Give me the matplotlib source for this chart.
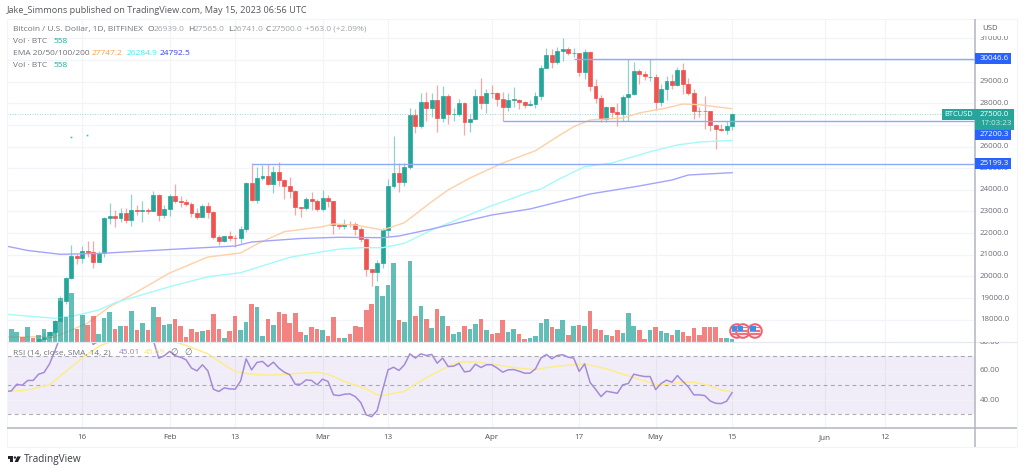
import numpy as np
import matplotlib
matplotlib.use("Agg")
import matplotlib.pyplot as plt
from matplotlib.patches import Ellipse, Polygon, Rectangle, Circle

# ── Data: days counted from Jan 1 2023 ──────────────────────
days = np.arange(1, 135)

opens = [16620, 16660, 16670, 16850, 16830, 16950, 16940, 17120, 17180, 17440, 17940, 18850, 19930, 20950,
         20870, 21180, 21130, 20670, 21080, 22680, 22780, 22710, 22920, 22630, 23060, 23010, 23080, 23030,
         23750, 22830, 23130, 23730, 23490, 23430, 23330, 22940, 22760, 23240, 22960, 21800, 21630, 21860,
         21790, 21780, 22200, 24330, 23520, 24570, 24630, 24280, 24840, 24450, 24190, 23940, 23190, 23160,
         23560, 23490, 23130, 23630, 23470, 22360, 22350, 22430, 22410, 22200, 21710, 20360, 20190, 20630,
         22160, 24200, 24770, 24380, 25050, 27450, 26970, 28040, 27770, 28170, 27300, 28320, 27480, 27490,
         27990, 27140, 27270, 28350, 28030, 28475, 28470, 28200, 27810, 28160, 28170, 28040, 27920, 27950,
         28330, 29650, 30230, 29890, 30400, 30490, 30310, 30320, 29430, 30380, 28800, 28250, 27270, 27820,
         27590, 27520, 28300, 28420, 29470, 29340, 29210, 29230, 28070, 28680, 29030, 28850, 29530, 28900,
         28450, 27660, 27630, 27620, 26990, 26800, 26780, 26939]
highs = [16760, 16780, 16990, 16880, 16980, 16970, 17170, 17400, 17490, 18000, 19100, 19990, 21450, 21050,
         21400, 21630, 21650, 21190, 22740, 23370, 23080, 23160, 23180, 23790, 23280, 23500, 23180, 23960,
         23800, 23320, 23810, 24260, 23710, 23590, 23450, 23170, 23350, 23450, 23000, 21900, 21890, 22090,
         21900, 22320, 24380, 25250, 25050, 25130, 25200, 25100, 25270, 24480, 24600, 23970, 23220, 23690,
         23880, 23600, 24000, 23780, 23500, 22420, 22650, 22570, 22530, 22270, 21800, 20360, 20780, 22250,
         24500, 26500, 25250, 25230, 27780, 27750, 28470, 28530, 28470, 28830, 28800, 28440, 27800, 28200,
         28040, 27500, 28650, 29180, 28650, 28820, 28500, 28500, 28450, 28770, 28190, 28100, 28170, 28530,
         29770, 30550, 30500, 30600, 31000, 30620, 30560, 30320, 30490, 30410, 29100, 28370, 27890, 27820,
         28000, 28400, 30040, 29900, 29580, 29470, 30050, 29330, 28880, 29260, 29370, 29680, 29840, 29180,
         28640, 27830, 28330, 27640, 27040, 27040, 27200, 27565]
lows = [16550, 16610, 16650, 16750, 16750, 16910, 16910, 17100, 17140, 17320, 17920, 18730, 19890, 20560,
        20600, 20880, 20400, 20650, 20880, 22400, 22300, 22500, 22470, 22330, 22850, 22520, 22880, 23000,
        22550, 22720, 22780, 23400, 23220, 23260, 22750, 22640, 22730, 22680, 21710, 21460, 21600, 21640,
        21360, 21540, 22050, 23480, 23380, 24460, 24220, 23850, 24180, 23600, 23620, 22850, 22730, 23060,
        23090, 23020, 23020, 23210, 21960, 22200, 22200, 22280, 21930, 21590, 20040, 19570, 19800, 20400,
        21840, 24100, 23900, 24190, 24950, 26640, 26870, 27180, 27350, 26650, 27150, 27020, 27170, 27390,
        26530, 26670, 27260, 27720, 27530, 28250, 27870, 27200, 27660, 27830, 27740, 27780, 27880, 27800,
        28170, 29620, 29650, 29820, 29960, 30230, 30120, 29270, 29110, 28550, 28020, 27130, 27130, 27350,
        26970, 27200, 27200, 28400, 28900, 29080, 29050, 27670, 27880, 28130, 28680, 28810, 28430, 28390,
        27280, 27370, 26800, 26710, 25890, 26700, 26600, 26741]
closes = [16680, 16670, 16850, 16830, 16950, 16940, 17120, 17180, 17440, 17940, 18850, 19930, 20950, 20870,
          21180, 21130, 20670, 21080, 22680, 22780, 22710, 22920, 22630, 23060, 23010, 23080, 23030, 23750,
          22830, 23130, 23730, 23490, 23430, 23330, 22940, 22760, 23240, 22960, 21800, 21630, 21860, 21780,
          21770, 22200, 24330, 23520, 24570, 24630, 24280, 24840, 24450, 24190, 23940, 23190, 23160, 23560,
          23490, 23130, 23630, 23470, 22360, 22350, 22430, 22410, 22200, 21710, 20360, 20190, 20630, 22160,
          24200, 24770, 24380, 25050, 27450, 26970, 28040, 27770, 28170, 27300, 28320, 27490, 27490, 27990,
          27140, 27270, 28350, 28030, 28470, 28465, 28200, 27810, 28170, 28180, 28040, 27920, 27950, 28330,
          29650, 30230, 29890, 30400, 30490, 30310, 30320, 29430, 30380, 28800, 28250, 27270, 27820, 27590,
          27520, 28300, 28420, 29470, 29340, 29250, 29230, 28070, 28680, 29030, 28850, 29530, 28900, 28450,
          27660, 27630, 27620, 26990, 26800, 26780, 26930, 27500]
volumes = [3, 13, 9.7, 5, 15, 3.3, 7, 13, 10, 21, 44, 25, 49, 13,
           27, 17, 26, 7.7, 24, 30, 12.7, 15.7, 16, 31, 12, 18.7, 12, 35,
           24.7, 16.7, 18, 23, 16, 5, 12.3, 9.7, 10.3, 11.7, 27.3, 12.7, 3.3, 10.7,
           25.7, 12, 19.7, 38, 34.3, 5.7, 22.7, 17, 29.3, 27.7, 18.7, 28.7, 9.3, 6.7,
           15, 12.3, 11.7, 6, 25, 3.3, 3.7, 7.7, 15.7, 14.7, 31.3, 38, 55.7, 46,
           57, 78.7, 22, 20, 80.3, 25.3, 36, 22.3, 14, 32.7, 26, 16, 7.3, 10,
           16, 12.3, 18, 22.3, 11.3, 7.7, 8.7, 22, 9.3, 12.7, 7.7, 3, 4, 6,
           18.7, 23, 14.3, 12.3, 21.7, 7, 15.7, 17, 16, 31, 13, 11.7, 6.3, 6,
           11.7, 8.7, 28.7, 16, 12, 3, 11.7, 15, 10.7, 9, 7, 12, 10, 5.7,
           13.3, 6.3, 14.3, 14.7, 15, 3.3, 3.3, 3]

ema20_days = [1, 10, 13, 16, 20, 24, 31, 38, 44, 47, 52, 59, 61, 65, 70, 74, 79, 82, 86, 92, 98, 102, 105, 108,
              114, 117, 122, 125, 128, 134]
ema20_vals = [17203, 17217, 17526, 17850, 18603, 19143, 20159, 20898, 21083, 21499, 22067, 22298, 22423, 22376,
              22145, 22483, 23453, 23993, 24547, 25240, 25808, 26455, 26917, 27226, 27319, 27550, 27781, 27965,
              27933, 27747.2]
ema50_days = [1, 10, 14, 18, 21, 31, 38, 44, 53, 59, 62, 66, 70, 74, 79, 90, 97, 99, 102, 107, 112, 119, 124, 128, 134]
ema50_vals = [18252, 18067, 18205, 18450, 18787, 19526, 19988, 20173, 20884, 21143, 21259, 21328, 21328, 21531,
              22145, 23268, 23901, 24039, 24455, 25069, 25240, 25762, 26072, 26210, 26284.9]
ema100_days = [1, 5, 11, 18, 31, 43, 46, 55, 62, 70, 73, 79, 90, 97, 108, 117, 123, 126, 134]
ema100_vals = [21406, 21199, 21023, 21060, 21245, 21406, 21591, 21753, 21808, 21790, 21868, 22192, 22838, 23116,
               23808, 24178, 24455, 24686, 24792.5]

rsi_vals = [45.8, 46.2, 50.8, 50.1, 53.4, 53.4, 57.7, 58.9, 64.8, 74, 83.7, 87, 91, 90,
            90, 87, 78.2, 80.5, 85, 87, 84, 85, 83, 85, 85, 85, 84, 81,
            68.7, 70.4, 73.4, 70.4, 69.4, 67.6, 61.9, 60, 64.2, 60, 47.4, 45.8, 48.3, 47.6,
            47.4, 53.1, 68.3, 60.7, 65.8, 66.5, 63, 66, 61.9, 59.1, 57.3, 50.8, 50.8, 53.8,
            53.4, 50.4, 54.3, 52.7, 43.5, 43, 43.9, 44.2, 42.3, 38.2, 29.7, 28.5, 32.7, 46.9,
            60.7, 62.5, 60.3, 64.2, 71.7, 68.8, 71.7, 70.6, 71.3, 65.3, 68.8, 63, 63.2, 65.1,
            59.3, 59.8, 64.6, 62.3, 64.2, 64.2, 61.9, 59.1, 60.7, 60.9, 59.8, 58.4, 58.4, 61.4,
            68.8, 71.3, 68.3, 70.6, 71.1, 69.4, 68.8, 59.6, 64.8, 52, 47.4, 42.3, 46, 45.3,
            44.6, 50.4, 51.3, 57.7, 56.8, 56.1, 56.1, 47.1, 51.3, 53.6, 52.2, 56.8, 52.7, 49,
            43.5, 43.5, 43, 39.3, 37.7, 37.5, 39.1, 45.01]
sma_days = [1, 4, 6, 9, 12, 15, 18, 21, 24, 28, 31, 34, 38, 41, 43, 46, 49, 52, 55, 58, 60, 63, 67, 69, 70, 73,
            74, 76, 79, 82, 84, 87, 90, 94, 98, 100, 104, 107, 111, 115, 120, 121, 125, 127, 129, 132, 134]
sma_vals = [45.8, 46.5, 47.6, 50.4, 59.6, 68.8, 76.8, 81.4, 84, 84, 81.4, 77.5, 71.7, 64.2, 59.6, 57.7, 57, 57.5,
            58.4, 59.1, 57.7, 52.7, 47.6, 43.5, 43, 45.3, 45.8, 50.8, 57.3, 63, 66, 66.2, 64.6, 62.3, 60.7, 62.3,
            63.9, 64.8, 61.4, 56.6, 50.6, 50.4, 52.2, 52.2, 50.8, 46.9, 45.69]

level_vals = [30046.6, 27200.3, 25199.3]
level_starts = [105, 92, 46]
event_days = [134.9, 136, 138.2]
speck_days = [12.9, 15.9]
speck_vals = [26441, 26547]

price_ticks = np.arange(18000, 32000, 1000)
rsi_ticks = [40, 60, 80]
time_ticks = [15, 31, 43, 59, 71, 90, 106, 120, 134, 151, 162]
time_labels = ["16", "Feb", "13", "Mar", "13", "Apr", "17", "May", "15", "Jun", "12"]

# ── Style ────────────────────────────────────────────────────
UP = "#26a69a"
DOWN = "#ef5350"
GRID = "#f1f4f9"
AXIS = "#b2b5be"
TEXT = "#6a6d78"
LABEL_BLUE = "#2962ff"
LEVEL = "#8eaaf7"

plt.rcParams["font.family"] = ["Open Sans", "DejaVu Sans"]

W, H = 1024, 472
fig = plt.figure(figsize=(W / 100, H / 100), dpi=100, facecolor="white")


def pane(top, bottom):
    return fig.add_axes([7 / W, 1 - bottom / H, (975 - 7) / W, (bottom - top) / H])


ax = pane(19, 341.5)
ax_rsi = pane(341.5, 427.7)
ax_vol = pane(19, 341.5)
ax_vol.patch.set_alpha(0)
ax_px = fig.add_axes([0, 0, 1, 1], zorder=10)
ax_px.set_xlim(0, W)
ax_px.set_ylim(H, 0)
ax_px.axis("off")

xlim = (1.209, 178.5)
for a in (ax, ax_rsi, ax_vol):
    a.set_xlim(*xlim)
    a.set_xticks([])
    a.set_yticks([])
    for s in a.spines.values():
        s.set_visible(False)
ax.set_ylim(16995, 31891)
ax_rsi.set_ylim(20.9, 80.2)
ax_vol.set_ylim(0, 322.5)

# ── Price pane ───────────────────────────────────────────────
for d in time_ticks:
    ax.axvline(d, color=GRID, lw=0.9, zorder=0)
    ax_rsi.axvline(d, color=GRID, lw=0.9, zorder=0)
for p in price_ticks:
    ax.axhline(p, color=GRID, lw=0.9, zorder=0)

is_up = np.array(closes) >= np.array(opens)
candle_colors = [UP if u else DOWN for u in is_up]

ax_vol.bar(days, volumes, width=0.84, color=candle_colors, alpha=0.72, linewidth=0, zorder=1)

ax.axhline(27500, color=UP, lw=0.6, ls=(0, (1, 2)), alpha=0.6, zorder=1)
ax.vlines(days, lows, highs, colors=candle_colors, lw=0.9, alpha=0.5, zorder=2)
bottoms = np.minimum(opens, closes)
heights = np.abs(np.array(closes) - np.array(opens))
ax.bar(days, heights, bottom=bottoms, width=0.72, color=candle_colors, edgecolor=candle_colors,
       linewidth=0.5, zorder=3)

ax.plot(ema20_days, ema20_vals, color="#ffcfa6", lw=1.0, zorder=4)
ax.plot(ema50_days, ema50_vals, color="#a6f9f9", lw=1.0, zorder=4)
ax.plot(ema100_days, ema100_vals, color="#a4a4fb", lw=1.0, zorder=4)
ax.plot(speck_days, speck_vals, ls="none", marker="s", ms=1.2, mew=0, color="#26c6da", zorder=4)

for val, start in zip(level_vals, level_starts):
    ax.hlines(val, start, xlim[1], color=LEVEL, lw=1.0, zorder=5)

# Event flags sitting on the volume bars
for d in event_days:
    rx, ry = 6.8 / 5.46, 6.8
    cy = 10.5
    ax_vol.add_patch(Ellipse((d, cy), 2 * rx, 2 * ry, fc="#fdeeee", ec="#f25f70", lw=1.4, zorder=6))
    for dy in (-3, 0.2, 3.4):
        ax_vol.add_patch(Rectangle((d - rx * 0.72, cy + dy - 0.8), 1.44 * rx, 1.5, fc="#f4707e", lw=0, zorder=7))
    ax_vol.add_patch(Rectangle((d - rx * 0.72, cy - 0.4), rx * 0.8, 5.2, fc="#3f8fe6", lw=0, zorder=8))

# ── RSI pane ─────────────────────────────────────────────────
ax_rsi.axhspan(30, 70, color="#7e57c2", alpha=0.1, lw=0, zorder=1)
for v in rsi_ticks[:2]:
    ax_rsi.axhline(v, color=GRID, lw=0.9, alpha=0.8, zorder=1)
for v in (70, 50, 30):
    ax_rsi.axhline(v, color="#787b86", lw=0.8, ls=(0, (3.5, 3)), alpha=0.6, zorder=2)
ax_rsi.plot(sma_days, sma_vals, color="#fdec8c", lw=1.1, zorder=3)
ax_rsi.plot(days, rsi_vals, color="#a48bd8", lw=1.1, zorder=4)


# ── Frame, scales and labels, placed in pixels ──────────────
def txt(x, y, s, color=TEXT, size=5.6, ha="left", **kw):
    return ax_px.text(x, y, s, color=color, fontsize=size, ha=ha, va="center", **kw)


def hline(y, x0, x1, color, lw=0.8):
    ax_px.plot([x0, x1], [y, y], color=color, lw=lw, solid_capstyle="butt")


def vline(x, y0, y1, color, lw=0.8):
    ax_px.plot([x, x], [y0, y1], color=color, lw=lw, solid_capstyle="butt")


def clip_text(t, x, y, w, h):
    t.set_clip_on(True)
    t.set_clip_path(Rectangle((x, y), w, h, transform=ax_px.transData))


hline(19, 7, 1017, GRID)
vline(7, 19, 447, GRID)
vline(1017, 19, 447, GRID)
hline(447, 7, 1017, GRID)
hline(341.5, 7, 1017, "#e4e8ef", lw=0.9)
hline(427.8, 7, 1017, AXIS, lw=1.1)
vline(975, 19, 447, AXIS, lw=1.1)

txt(7, 10.5, "Jake_Simmons published on TradingView.com, May 15, 2023 06:56 UTC", color="#55585f", size=6.6)
txt(982, 28, "USD", color="#55585f", size=5.6)


def price_y(p):
    return 38.3 + (31000 - p) * 0.02165


for p in price_ticks:
    if p in (27000, 30000):
        continue
    t = txt(980, price_y(p), f"{p}.0", size=5.7)
    if p == 31000:
        clip_text(t, 975, 36, 42, 10)
    if p == 25000:
        clip_text(t, 975, 169.4, 42, 6)

for v, y in zip(rsi_ticks, [400, 371, 342.5]):
    t = txt(980, y, f"{v}.00", size=5.7)
    if v == 80:
        clip_text(t, 975, 341.5, 42, 8)

# The 27200.3 label is pushed down by the last price box, its line stays put
level_label_y = [price_y(30046.6), 134, price_y(25199.3)]
for val, y in zip(level_vals, level_label_y):
    ax_px.add_patch(Rectangle((975, y - 5.5), 36, 11, fc=LABEL_BLUE, lw=0, zorder=3))
    txt(980, y, f"{val:.1f}", color="white", size=5.7, zorder=4)

y_last = price_y(27500)
ax_px.add_patch(Rectangle((941.5, y_last - 5.5), 33.5, 11, fc=UP, lw=0, zorder=5))
txt(944.5, y_last, "BTCUSD", color="white", size=5.4, zorder=6)
ax_px.add_patch(Rectangle((975, y_last - 5.5), 39, 21, fc=UP, lw=0, zorder=5))
txt(980, y_last, "27500.0", color="white", size=5.7, zorder=6)
txt(980, y_last + 9.5, "17:03:23", color="#c5ebe6", size=5.7, zorder=6)

for d, lab in zip(time_ticks, time_labels):
    x = 0.4 + 5.46 * d
    month = not lab.isdigit()
    txt(x, 437.5, lab, color="#4a4d55" if month else "#55585f", size=5.8, ha="center")

# Legend lines
LEG = "#6f7279"
LEG_SIZE = 6.05
txt(13, 29.5, "Bitcoin / U.S. Dollar, 1D, BITFINEX", color=LEG, size=LEG_SIZE)
for xl, letter, xv, value in zip([148, 188, 228, 266], "OHLC", [154, 194, 233, 272],
                                 ["26939.0", "27565.0", "26741.0", "27500.0"]):
    txt(xl, 29.5, letter, color="#5f6269", size=LEG_SIZE)
    txt(xv, 29.5, value, color="#a0a3a9", size=LEG_SIZE)
txt(305, 29.5, "+563.0 (+2.09%)", color="#a0a3a9", size=LEG_SIZE)
txt(13, 41.5, "Vol · BTC", color=LEG, size=LEG_SIZE)
txt(53, 41.5, "558", color=UP, size=LEG_SIZE)
txt(13, 53.5, "EMA 20/50/100/200", color=LEG, size=LEG_SIZE)
txt(92, 53.5, "27747.2", color="#ff9f3f", size=LEG_SIZE)
txt(126.5, 53.5, "26284.9", color="#35f0f0", size=LEG_SIZE)
txt(160, 53.5, "24792.5", color="#3a3af5", size=LEG_SIZE)
txt(13, 65.5, "Vol · BTC", color=LEG, size=LEG_SIZE)
txt(53, 65.5, "558", color=UP, size=LEG_SIZE)
txt(13, 352.5, "RSI (14, close, SMA, 14, 2)", color=LEG, size=LEG_SIZE)
txt(119, 352.5, "45.01", color="#9a7fd4", size=LEG_SIZE)
txt(144, 352.5, "45.69", color="#f7e36b", size=LEG_SIZE)
txt(170, 352.5, "∅", color=LEG, size=6.2)
txt(184, 352.5, "∅", color=LEG, size=6.2)

# TradingView logo
LOGO = "#1f2229"
ax_px.add_patch(Polygon([(7.5, 456.4), (13.2, 456.4), (13.2, 462), (10.3, 462), (10.3, 458.6), (7.5, 458.6)],
                        fc=LOGO, lw=0))
ax_px.add_patch(Circle((14.9, 457.5), 1.15, fc=LOGO, lw=0))
ax_px.add_patch(Polygon([(17.2, 456.4), (20.8, 456.4), (18, 462), (14.6, 462)], fc=LOGO, lw=0))
txt(24, 459.5, "TradingView", color="#3a3d44", size=7.2)

fig.savefig("out.png", dpi=100, facecolor="white")
